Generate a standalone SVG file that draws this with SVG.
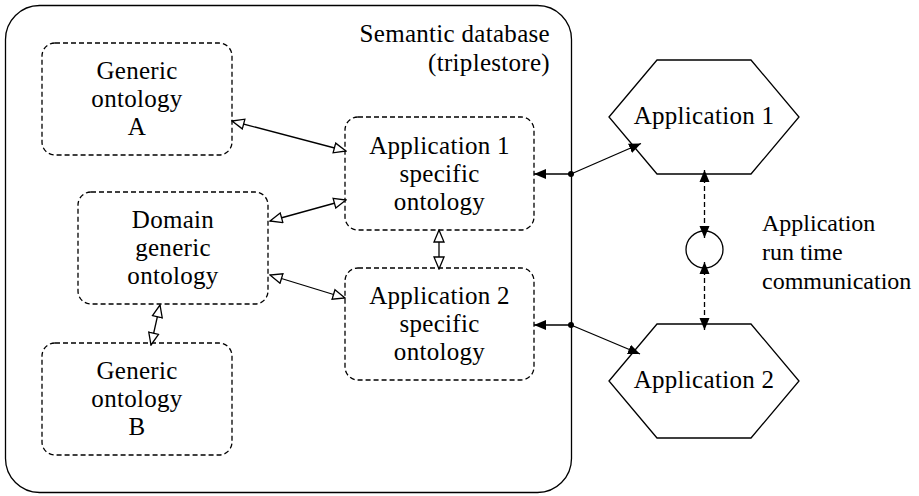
<svg xmlns="http://www.w3.org/2000/svg" width="919" height="496" viewBox="0 0 919 496">
  <style>
    text { font-family: "Liberation Serif", "Times New Roman", serif; font-size: 25px; letter-spacing: 0.3px; fill: #000; }
    .mid { text-anchor: middle; }
    .end { text-anchor: end; }
    .side { font-size: 24px; letter-spacing: 0; }
    .onto { fill: #fff; stroke: #000; stroke-width: 1.3; stroke-dasharray: 5 3; }
    .solid { fill: #fff; stroke: #000; stroke-width: 1.3; }
    .link { fill: none; stroke: #000; stroke-width: 1.3; }
    .open { marker-start: url(#openHead); marker-end: url(#openHead); }
    .dash { stroke-dasharray: 5 3; }
  </style>
  <defs>
    <!-- hollow head for ontology import links -->
    <marker id="openHead" viewBox="0 0 14 12" refX="13" refY="6" markerWidth="14" markerHeight="12" markerUnits="userSpaceOnUse" orient="auto-start-reverse">
      <path d="M1,1 L13,6 L1,11 Z" fill="#fff" stroke="#000" stroke-width="1.3" stroke-linejoin="miter"/>
    </marker>
    <!-- solid head for application access links -->
    <marker id="fillHead" viewBox="0 0 13 11" refX="12" refY="5.5" markerWidth="13" markerHeight="11" markerUnits="userSpaceOnUse" orient="auto-start-reverse">
      <path d="M0,0.5 L12,5.5 L0,10.5 Z" fill="#000"/>
    </marker>
  </defs>

  <!-- triplestore container -->
  <g id="semantic-db">
    <rect x="5.5" y="5.5" width="566" height="487" rx="34" ry="34" class="solid"/>
    <text x="550" y="42" class="end">Semantic database</text>
    <text x="550" y="71" class="end">(triplestore)</text>
  </g>

  <g id="generic-a">
    <rect x="42" y="43" width="190" height="112" rx="13" class="onto"/>
    <text x="137" y="79" class="mid">Generic</text>
    <text x="137" y="107" class="mid">ontology</text>
    <text x="137" y="135" class="mid">A</text>
  </g>

  <g id="domain-generic">
    <rect x="78" y="192" width="190" height="112" rx="13" class="onto"/>
    <text x="173" y="228" class="mid">Domain</text>
    <text x="173" y="256" class="mid">generic</text>
    <text x="173" y="284" class="mid">ontology</text>
  </g>

  <g id="generic-b">
    <rect x="42" y="343" width="190" height="112" rx="13" class="onto"/>
    <text x="137" y="379" class="mid">Generic</text>
    <text x="137" y="407" class="mid">ontology</text>
    <text x="137" y="435" class="mid">B</text>
  </g>

  <g id="app1-ontology">
    <rect x="345" y="117" width="189" height="113" rx="13" class="onto"/>
    <text x="439.5" y="154" class="mid">Application 1</text>
    <text x="439.5" y="182" class="mid">specific</text>
    <text x="439.5" y="210" class="mid">ontology</text>
  </g>

  <g id="app2-ontology">
    <rect x="345" y="268" width="189" height="112" rx="13" class="onto"/>
    <text x="439.5" y="304" class="mid">Application 2</text>
    <text x="439.5" y="332" class="mid">specific</text>
    <text x="439.5" y="360" class="mid">ontology</text>
  </g>

  <g id="application-1">
    <polygon points="609,117 657,60 751,60 799,117 751,174 657,174" class="solid"/>
    <text x="704" y="124" class="mid">Application 1</text>
  </g>

  <g id="application-2">
    <polygon points="609,381 657,324 751,324 799,381 751,438 657,438" class="solid"/>
    <text x="704" y="388" class="mid">Application 2</text>
  </g>

  <g id="runtime-loop">
    <circle cx="704.5" cy="249.5" r="18.5" class="link"/>
    <text x="762" y="231" class="side">Application</text>
    <text x="762" y="260" class="side">run time</text>
    <text x="762" y="289" class="side">communication</text>
  </g>

  <g id="connectors">
    <!-- ontology imports -->
    <line x1="232" y1="121" x2="346" y2="151" class="link open"/>
    <line x1="270" y1="221" x2="346" y2="200" class="link open"/>
    <line x1="270" y1="275" x2="345" y2="298" class="link open"/>
    <line x1="160" y1="305" x2="151" y2="345" class="link open"/>
    <line x1="439" y1="230" x2="439" y2="269" class="link open"/>

    <!-- application access to the store -->
    <line x1="571" y1="174" x2="534" y2="174" class="link" marker-end="url(#fillHead)"/>
    <line x1="571" y1="174" x2="641" y2="143.5" class="link" marker-end="url(#fillHead)"/>
    <circle cx="571" cy="174" r="3" fill="#000"/>
    <line x1="571" y1="325" x2="534" y2="325" class="link" marker-end="url(#fillHead)"/>
    <line x1="571" y1="325" x2="640" y2="354" class="link" marker-end="url(#fillHead)"/>
    <circle cx="571" cy="325" r="3" fill="#000"/>

    <!-- run time communication -->
    <line x1="704.5" y1="170" x2="704.5" y2="238" class="link dash" marker-start="url(#fillHead)" marker-end="url(#fillHead)"/>
    <line x1="704.5" y1="262" x2="704.5" y2="330" class="link dash" marker-start="url(#fillHead)" marker-end="url(#fillHead)"/>
  </g>
</svg>
